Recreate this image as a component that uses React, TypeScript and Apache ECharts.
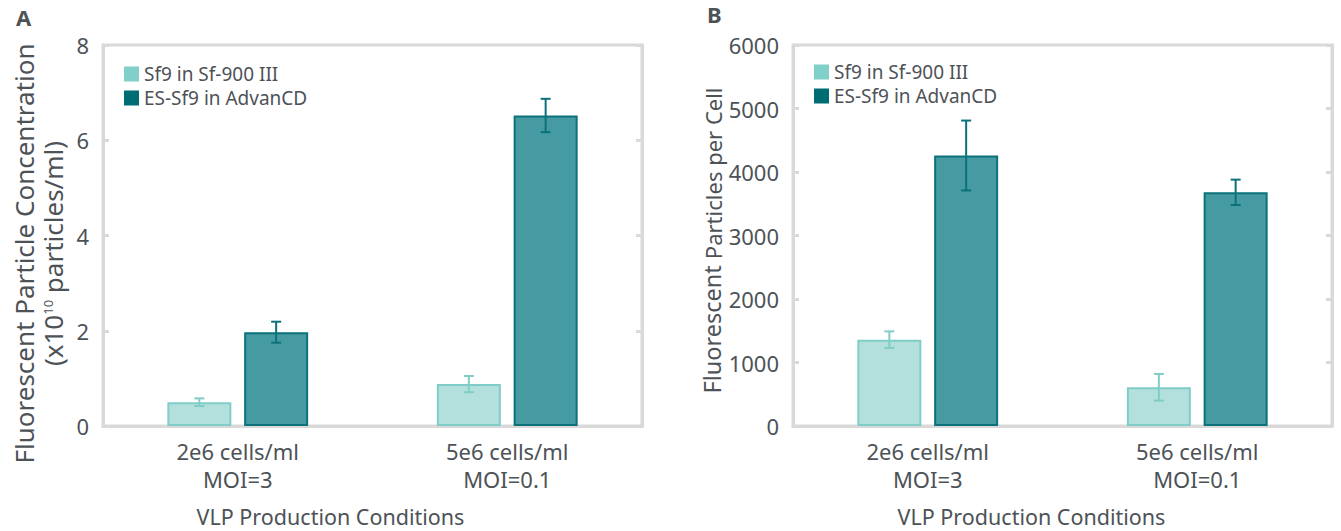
import React, { useEffect, useRef } from 'react';
import * as echarts from 'echarts';

const categories = ['2e6 cells/ml\nMOI=3', '5e6 cells/ml\nMOI=0.1'];
const seriesNames = ['Sf9 in Sf-900 III', 'ES-Sf9 in AdvanCD'];
const concSf9 = [0.5, 0.88];
const concSf9Err = [0.08, 0.17];
const concES = [1.97, 6.52];
const concESErr = [0.22, 0.35];
const perCellSf9 = [1360, 610];
const perCellSf9Err = [130, 210];
const perCellES = [4260, 3680];
const perCellESErr = [550, 200];
const concTicks = [0, 2, 4, 6, 8];
const perCellTicks = [0, 1000, 2000, 3000, 4000, 5000, 6000];

const FONT = 'Noto Sans';
const TXT = '#4d5257';
const FRAME = '#d9d9d9';
const LIGHT_FILL = '#b3e0dd';
const LIGHT_EDGE = '#80cdc8';
const DARK_FILL = '#469ba3';
const DARK_EDGE = '#0b727a';
const BAR_W = 64;
const BAR_GAP = 0.2;
const OFFSET = (BAR_W * (1 + BAR_GAP)) / 2;

function errSeries(name: string, gi: number, vals: number[], errs: number[], color: string, side: number) {
  return {
    type: 'custom',
    name,
    xAxisIndex: gi,
    yAxisIndex: gi * 2,
    z: 5,
    silent: true,
    data: vals.map((v, i) => [i, v - errs[i], v + errs[i]]),
    encode: { x: 0, y: [1, 2] },
    renderItem: (params: any, api: any) => {
      const c = api.value(0);
      const lo = api.coord([c, api.value(1)]);
      const hi = api.coord([c, api.value(2)]);
      const x = lo[0] + side * OFFSET;
      const cap = 5;
      const st = { stroke: color, lineWidth: 2 };
      return {
        type: 'group',
        children: [
          { type: 'line', shape: { x1: x, y1: lo[1], x2: x, y2: hi[1] }, style: st },
          { type: 'line', shape: { x1: x - cap, y1: lo[1], x2: x + cap, y2: lo[1] }, style: st },
          { type: 'line', shape: { x1: x - cap, y1: hi[1], x2: x + cap, y2: hi[1] }, style: st },
        ],
      };
    },
  };
}

function barSeries(name: string, gi: number, vals: number[], fill: string, edge: string) {
  return {
    type: 'bar',
    name,
    xAxisIndex: gi,
    yAxisIndex: gi * 2,
    barWidth: BAR_W,
    barGap: BAR_GAP * 100 + '%',
    data: vals,
    itemStyle: { color: fill, borderColor: edge, borderWidth: 2 },
  };
}

function yPair(gi: number, ticks: number[], name: string, nameStyle: any, nameGap: number) {
  const min = ticks[0];
  const max = ticks[ticks.length - 1];
  const interval = ticks[1] - ticks[0];
  const common = {
    type: 'value',
    gridIndex: gi,
    min,
    max,
    interval,
    splitLine: { show: false },
    axisLine: { show: true, lineStyle: { color: FRAME, width: 3 } },
    axisTick: { show: true, inside: true, length: 6, lineStyle: { color: FRAME, width: 3 } },
  };
  return [
    {
      ...common,
      position: 'left',
      name,
      nameLocation: 'middle',
      nameRotate: 90,
      nameGap,
      nameMoveOverlap: false,
      nameTextStyle: nameStyle,
      axisLabel: { fontSize: 22, color: TXT, fontFamily: FONT, margin: 14, formatter: (v: number) => String(v) },
    },
    {
      ...common,
      position: 'right',
      axisLabel: { show: false },
    },
  ];
}

export default function App() {
  const ref = useRef<HTMLDivElement>(null);
  useEffect(() => {
    if (!ref.current) return;
    const chart = echarts.init(ref.current, undefined, { renderer: 'svg' });
    const legendData = [
      { name: seriesNames[0], itemStyle: { color: '#80cfc9', borderWidth: 0 } },
      { name: seriesNames[1], itemStyle: { color: '#006d75', borderWidth: 0 } },
    ];
    const legendCommon = {
      orient: 'vertical',
      itemWidth: 15,
      itemHeight: 15,
      itemGap: 4,
      icon: 'rect',
      padding: 0,
      textStyle: { fontSize: 19, lineHeight: 20, color: TXT, fontFamily: FONT },
      data: legendData,
    };
    const yA = yPair(
      0,
      concTicks,
      '{t|Fluorescent Particle Concentration}\n{t|(x10}{s|10}{t| particles/ml)}',
      {
        padding: [0, 36, 0, 0],
        rich: {
          t: { fontSize: 26, color: TXT, fontFamily: FONT, lineHeight: 29 },
          s: { fontSize: 13, color: TXT, fontFamily: FONT, lineHeight: 29, verticalAlign: 'top', padding: [3, 0, 0, 0] },
        },
      },
      36
    );
    const yB = yPair(
      1,
      perCellTicks,
      '{b|Fluorescent }{s|Particles per Cell}',
      {
        padding: [0, 10, 0, 0],
        rich: {
          b: { fontSize: 23.5, color: TXT, fontFamily: FONT, lineHeight: 26, verticalAlign: 'bottom' },
          s: { fontSize: 22, color: TXT, fontFamily: FONT, lineHeight: 26, verticalAlign: 'bottom' },
        },
      },
      69
    );
    const xAxisFor = (gi: number) => ({
      type: 'category',
      gridIndex: gi,
      data: categories,
      axisTick: { show: false },
      axisLine: { show: true, lineStyle: { color: FRAME, width: 3 } },
      axisLabel: { fontSize: 22, lineHeight: 28, color: TXT, fontFamily: FONT, margin: 11 },
      name: 'VLP Production Conditions',
      nameLocation: 'middle',
      nameGap: 79,
      nameMoveOverlap: false,
      nameTextStyle: { fontSize: 21.5, lineHeight: 22, color: TXT, fontFamily: FONT, padding: [0, gi === 0 ? 84 : 62, 0, 0] },
    });
    chart.setOption({
      animation: false,
      textStyle: { fontFamily: FONT },
      title: [
        { text: 'A', left: 16, top: 6, padding: 0, textStyle: { fontSize: 22, fontWeight: 'bold', color: TXT, fontFamily: FONT } },
        { text: 'B', left: 707, top: 3, padding: 0, textStyle: { fontSize: 22, fontWeight: 'bold', color: TXT, fontFamily: FONT } },
      ],
      legend: [
        { ...legendCommon, left: 124, top: 64 },
        { ...legendCommon, left: 814, top: 62 },
      ],
      grid: [
        { left: 103, top: 45, width: 539, height: 381, show: true, borderColor: FRAME, borderWidth: 3, containLabel: false, outerBoundsMode: 'none' },
        { left: 793, top: 45, width: 539, height: 381, show: true, borderColor: FRAME, borderWidth: 3, containLabel: false, outerBoundsMode: 'none' },
      ],
      xAxis: [xAxisFor(0), xAxisFor(1)],
      yAxis: [...yA, ...yB],
      series: [
        barSeries(seriesNames[0], 0, concSf9, LIGHT_FILL, LIGHT_EDGE),
        barSeries(seriesNames[1], 0, concES, DARK_FILL, DARK_EDGE),
        barSeries(seriesNames[0], 1, perCellSf9, LIGHT_FILL, LIGHT_EDGE),
        barSeries(seriesNames[1], 1, perCellES, DARK_FILL, DARK_EDGE),
        errSeries('errA1', 0, concSf9, concSf9Err, LIGHT_EDGE, -1),
        errSeries('errA2', 0, concES, concESErr, DARK_EDGE, 1),
        errSeries('errB1', 1, perCellSf9, perCellSf9Err, LIGHT_EDGE, -1),
        errSeries('errB2', 1, perCellES, perCellESErr, DARK_EDGE, 1),
      ],
    });
    return () => chart.dispose();
  }, []);
  return <div ref={ref} style={{ position: 'fixed', left: 0, top: 0, width: 1341, height: 531, background: '#fff' }} />;
}
